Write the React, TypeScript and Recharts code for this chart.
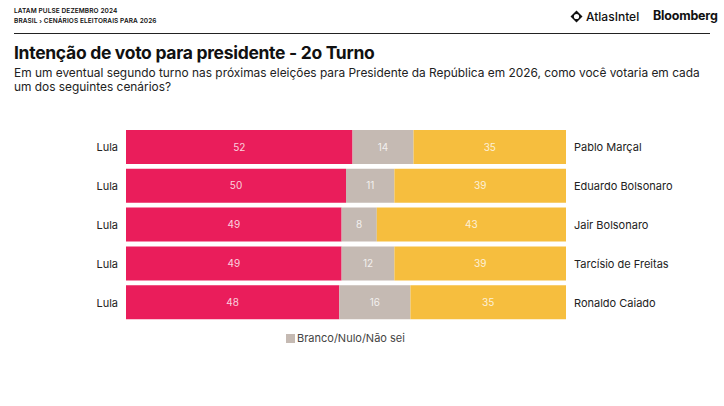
import { BarChart, Bar, XAxis, YAxis, LabelList } from "recharts"

const leftNames = ["Lula", "Lula", "Lula", "Lula", "Lula"]
const rightNames = ["Pablo Marçal", "Eduardo Bolsonaro", "Jair Bolsonaro", "Tarcísio de Freitas", "Ronaldo Caiado"]
const lulaVotes = [52, 50, 49, 49, 48]
const blankVotes = [14, 11, 8, 12, 16]
const opponentVotes = [35, 39, 43, 39, 35]

const RED = "#ea1d5b"
const GRAY = "#c5bab3"
const YELLOW = "#f6be3e"
const FONT = "Inter, 'Noto Sans', sans-serif"

const data = leftNames.map((name, i) => ({
  left: name + "#" + i,
  right: rightNames[i],
  lula: lulaVotes[i],
  blank: blankVotes[i],
  opponent: opponentVotes[i],
}))

const labelStyle = { fill: "#ffffff", fillOpacity: 0.8, fontSize: 10, fontFamily: FONT }

export default function App() {
  return (
    <div
      style={{
        position: "absolute",
        left: 0,
        top: 0,
        width: 724,
        height: 406,
        background: "#fff",
        fontFamily: FONT,
        color: "#111",
        overflow: "hidden",
      }}
    >
      <div style={{ position: "absolute", left: 14, top: 7, fontSize: 6.5, fontWeight: 600, lineHeight: "9.5px", letterSpacing: 0.1 }}>
        <div>LATAM PULSE DEZEMBRO 2024</div>
        <div>BRASIL › CENÁRIOS ELEITORAIS PARA 2026</div>
      </div>
      <div style={{ position: "absolute", left: 570, top: 9, display: "flex", alignItems: "center", gap: 3 }}>
        <svg width={13} height={13} viewBox="0 0 13 13">
          <path d="M6.5 0.5 L12.5 6.5 L6.5 12.5 L0.5 6.5 Z" fill="#111" />
          <circle cx={6.5} cy={6.5} r={2.6} fill="#fff" />
        </svg>
        <span style={{ fontSize: 12, fontWeight: 500 }}>AtlasIntel</span>
      </div>
      <div style={{ position: "absolute", left: 653, top: 8, fontSize: 12.5, fontWeight: 700, letterSpacing: -0.2 }}>Bloomberg</div>
      <div style={{ position: "absolute", left: 14, top: 33, width: 696, height: 1, background: "#222" }} />
      <div style={{ position: "absolute", left: 14, top: 42, fontSize: 17.5, fontWeight: 700, letterSpacing: -0.3 }}>
        Intenção de voto para presidente - 2o Turno
      </div>
      <div style={{ position: "absolute", left: 14, top: 66, whiteSpace: "nowrap", fontSize: 11.9, lineHeight: "14px", color: "#222" }}>
        Em um eventual segundo turno nas próximas eleições para Presidente da República em 2026, como você votaria em cada
        <br />
        um dos seguintes cenários?
      </div>

      <div style={{ position: "absolute", left: 0, top: 128 }}>
        <BarChart
          width={724}
          height={194}
          data={data}
          layout="vertical"
          stackOffset="expand"
          barSize={34}
          margin={{ top: 0, right: 0, bottom: 0, left: 0 }}
        >
          <XAxis type="number" hide domain={[0, 1]} />
          <YAxis
            yAxisId="l"
            type="category"
            dataKey="left"
            orientation="left"
            width={126}
            axisLine={false}
            tickLine={false}
            tick={{ fontSize: 11, fill: "#222", fontFamily: FONT }}
            tickFormatter={(v: string) => v.split("#")[0]}
          />
          <YAxis
            yAxisId="r"
            type="category"
            dataKey="right"
            orientation="right"
            width={158}
            axisLine={false}
            tickLine={false}
            tickMargin={2}
            tick={{ fontSize: 11, fill: "#222", fontFamily: FONT, textAnchor: "start" }}
          />
          <Bar yAxisId="l" dataKey="lula" stackId="a" fill={RED} isAnimationActive={false}>
            <LabelList dataKey="lula" position="center" style={labelStyle} />
          </Bar>
          <Bar yAxisId="l" dataKey="blank" stackId="a" fill={GRAY} isAnimationActive={false}>
            <LabelList dataKey="blank" position="center" style={labelStyle} />
          </Bar>
          <Bar yAxisId="l" dataKey="opponent" stackId="a" fill={YELLOW} isAnimationActive={false}>
            <LabelList dataKey="opponent" position="center" style={labelStyle} />
          </Bar>
        </BarChart>
      </div>

      <div style={{ position: "absolute", left: 286, top: 331, display: "flex", alignItems: "center", gap: 2, fontSize: 11, color: "#444" }}>
        <span style={{ width: 9, height: 9, background: GRAY, display: "inline-block" }} />
        <span>Branco/Nulo/Não sei</span>
      </div>
    </div>
  )
}
